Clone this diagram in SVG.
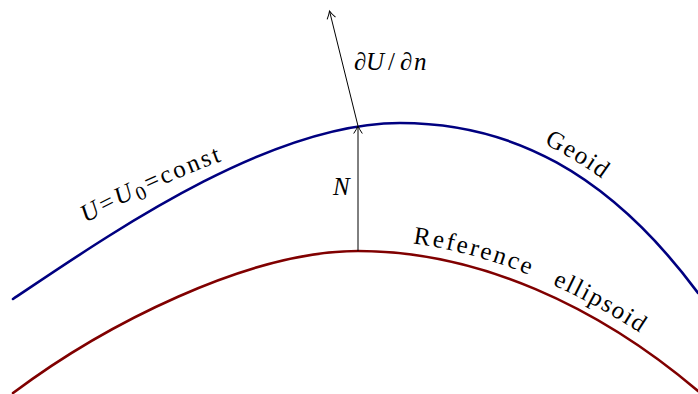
<svg xmlns="http://www.w3.org/2000/svg" width="698" height="394" viewBox="0 0 698 394">
  <style>
    .curve { fill: none; stroke-width: 2.6; stroke-linecap: round; }
    .geoid { stroke: #000080; }
    .ellip { stroke: #800000; }
    .arrow { fill: none; stroke: #000; stroke-width: 1; marker-end: url(#tip); }
    .lbl { font-family: "Liberation Serif", "Times New Roman", serif; font-size: 25px; fill: #000; }
    .path-lbl { letter-spacing: 2.4px; }
    .it { font-style: italic; }
  </style>
  <defs>
    <marker id="tip" markerUnits="userSpaceOnUse" markerWidth="12" markerHeight="12" refX="0" refY="0" viewBox="-9 -6 12 12" orient="auto">
      <path d="M -7.5,-4.3 Q -3,-1.2 0,0 Q -3,1.2 -7.5,4.3" fill="none" stroke="#000" stroke-width="1"/>
    </marker>
    <path id="p-geoid-lbl" d="M 400,111 C 510,111 617.6,164.4 707.6,285.9"/>
    <path id="p-ellip-lbl" d="M 358,239.5 C 478,239.5 605.5,297.2 705.5,382.2"/>
    <path id="p-u-lbl" d="M 86,223 Q 152,186 238,155"/>
  </defs>

  <g id="geoid">
    <path class="curve geoid" d="M 13,299 C 113,232 270,123 400,123 C 510,123 608,171.5 698,293"/>
    <text class="lbl" style="letter-spacing:1.6px"><textPath href="#p-geoid-lbl" startOffset="149">Geoid</textPath></text>
    <text class="lbl" style="letter-spacing:2.5px"><textPath href="#p-u-lbl" startOffset="0"><tspan class="it">U</tspan>=<tspan class="it">U</tspan><tspan font-size="20" dy="5">0</tspan><tspan dy="-5">=const</tspan></textPath></text>
  </g>

  <g id="ellipsoid">
    <path class="curve ellip" d="M 13,393 C 103,325.5 248,251 358,251 C 478,251 598,306 698,391"/>
    <text class="lbl path-lbl"><textPath href="#p-ellip-lbl" startOffset="55">Reference</textPath></text>
    <text class="lbl" style="letter-spacing:1.7px"><textPath href="#p-ellip-lbl" startOffset="201">ellipsoid</textPath></text>
  </g>

  <g id="connectors">
    <line class="arrow" x1="358" y1="251" x2="358" y2="126"/>
    <line class="arrow" x1="358" y1="126" x2="329.5" y2="11"/>
  </g>

  <g id="label-N">
    <text class="lbl it" x="333" y="195">N</text>
  </g>
  <g id="label-dUdn">
    <text class="lbl it" y="70"><tspan x="354">∂</tspan><tspan x="366">U</tspan><tspan x="388" font-style="normal">/</tspan><tspan x="400">∂</tspan><tspan x="414">n</tspan></text>
  </g>
</svg>
